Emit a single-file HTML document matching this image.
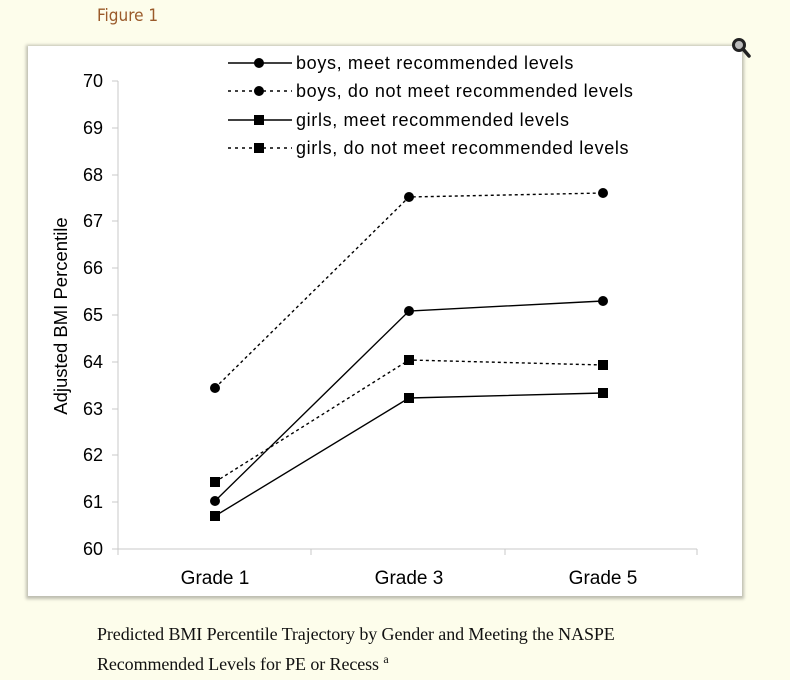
<!DOCTYPE html>
<html><head><style>
body{margin:0;width:790px;height:680px;background:#fdfdeb;overflow:hidden;position:relative;font-family:"Liberation Sans",sans-serif}
.fig{position:absolute;left:97px;top:6px;font-size:17px;color:#9a5a2a;font-family:"DejaVu Sans Condensed","Liberation Sans Narrow","Liberation Sans",sans-serif}
.box{position:absolute;left:28px;top:46px;width:714px;height:550px;background:#fff;box-shadow:0 1px 3px 2px rgba(0,0,0,0.25)}
.cap{position:absolute;left:97px;font-family:"Liberation Serif",serif;font-size:18px;color:#111;letter-spacing:-0.1px}
</style></head><body>
<div class="fig">Figure 1</div>
<div class="box"></div>
<svg width="790" height="680" style="position:absolute;left:0;top:0">
<g font-family="Liberation Sans, sans-serif" font-size="18" fill="#000">
<line x1="118" y1="81" x2="118" y2="549" stroke="#c8c8c8"/>
<line x1="118" y1="549" x2="697" y2="549" stroke="#c8c8c8"/>
<g stroke="#c8c8c8">
<line x1="112" y1="81" x2="118" y2="81"/><line x1="112" y1="128" x2="118" y2="128"/><line x1="112" y1="175" x2="118" y2="175"/><line x1="112" y1="221" x2="118" y2="221"/><line x1="112" y1="268" x2="118" y2="268"/><line x1="112" y1="315" x2="118" y2="315"/><line x1="112" y1="362" x2="118" y2="362"/><line x1="112" y1="409" x2="118" y2="409"/><line x1="112" y1="455" x2="118" y2="455"/><line x1="112" y1="502" x2="118" y2="502"/><line x1="112" y1="549" x2="118" y2="549"/>
<line x1="118" y1="549" x2="118" y2="555"/><line x1="311" y1="549" x2="311" y2="555"/><line x1="505" y1="549" x2="505" y2="555"/><line x1="697" y1="549" x2="697" y2="555"/>
</g>
<g text-anchor="end">
<text x="103" y="87">70</text><text x="103" y="134">69</text><text x="103" y="181">68</text><text x="103" y="227">67</text><text x="103" y="274">66</text><text x="103" y="321">65</text><text x="103" y="368">64</text><text x="103" y="415">63</text><text x="103" y="461">62</text><text x="103" y="508">61</text><text x="103" y="555">60</text>
</g>
<g text-anchor="middle" font-size="19">
<text x="215" y="584">Grade 1</text><text x="409" y="584">Grade 3</text><text x="603" y="584">Grade 5</text>
</g>
<text transform="translate(67,316) rotate(-90)" text-anchor="middle" font-size="18.5">Adjusted BMI Percentile</text>
<g stroke="#000" stroke-width="1.4" fill="none">
<polyline points="215,501 409,311 603,301"/>
<polyline points="215,388 409,197 603,193" stroke-dasharray="3,3"/>
<polyline points="215,516 409,398 603,393"/>
<polyline points="215,482 409,360 603,365" stroke-dasharray="3,3"/>
<line x1="228" y1="63" x2="292" y2="63"/>
<line x1="228" y1="91" x2="292" y2="91" stroke-dasharray="3,4"/>
<line x1="228" y1="120" x2="292" y2="120"/>
<line x1="228" y1="148" x2="292" y2="148" stroke-dasharray="3,4"/>
</g>
<g>
<circle cx="215" cy="501" r="5"/><circle cx="409" cy="311" r="5"/><circle cx="603" cy="301" r="5"/>
<circle cx="215" cy="388" r="5"/><circle cx="409" cy="197" r="5"/><circle cx="603" cy="193" r="5"/>
<rect x="210" y="511" width="10" height="10"/><rect x="404" y="393" width="10" height="10"/><rect x="598" y="388" width="10" height="10"/>
<rect x="210" y="477" width="10" height="10"/><rect x="404" y="355" width="10" height="10"/><rect x="598" y="360" width="10" height="10"/>
<circle cx="259" cy="63" r="5"/><circle cx="259" cy="91" r="5"/>
<rect x="254" y="115" width="10" height="10"/><rect x="254" y="143" width="10" height="10"/>
</g>
<g letter-spacing="0.65">
<text x="296" y="69">boys, meet recommended levels</text>
<text x="296" y="97">boys, do not meet recommended levels</text>
<text x="296" y="126">girls, meet recommended levels</text>
<text x="296" y="154">girls, do not meet recommended levels</text>
</g>
</g>
<circle cx="739" cy="45" r="5.5" fill="#bbb" stroke="#222" stroke-width="3"/>
<line x1="743" y1="49" x2="749" y2="56" stroke="#222" stroke-width="3.5" stroke-linecap="round"/>
</svg>
<div class="cap" style="top:624px">Predicted BMI Percentile Trajectory by Gender and Meeting the NASPE</div>
<div class="cap" style="top:652px">Recommended Levels for PE or Recess <sup style="font-size:12px">a</sup></div>
</body></html>
